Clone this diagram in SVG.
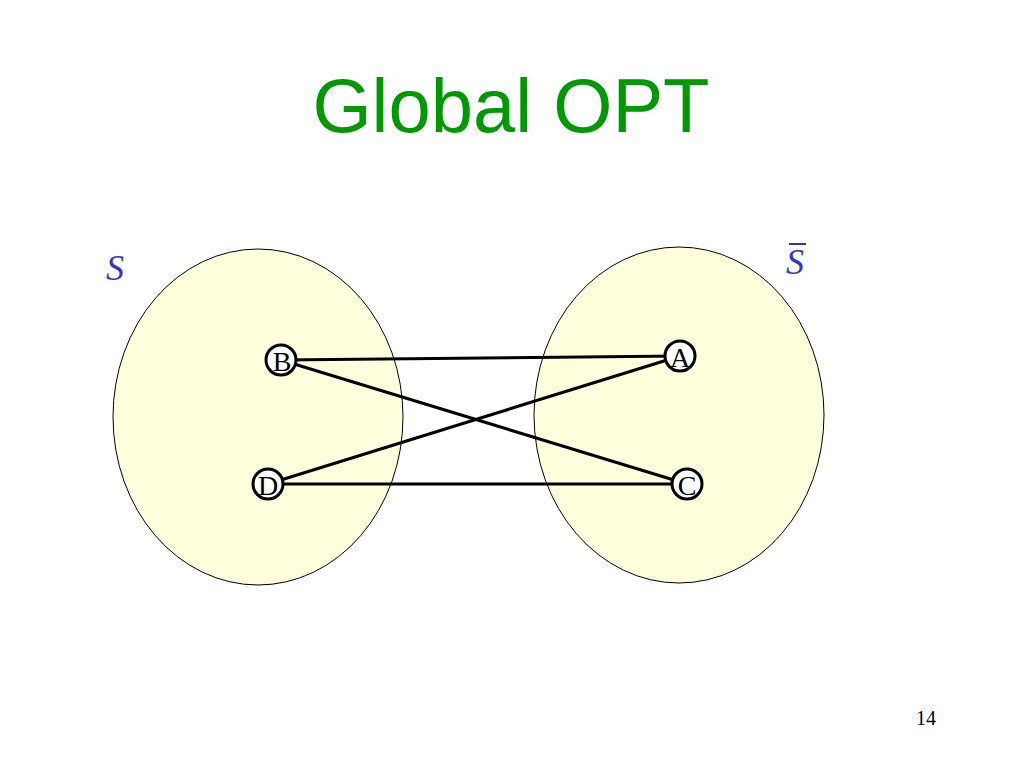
<svg xmlns="http://www.w3.org/2000/svg" width="1024" height="768" viewBox="0 0 1024 768">
<style>
.set{fill:#ffffdd;stroke:#000;stroke-width:1}
.node circle{fill:#fff;stroke:#000;stroke-width:3}
.node text{font-family:"Liberation Serif",serif;font-size:28px;text-anchor:middle}
.edge{stroke:#000;stroke-width:3;fill:none}
.lab{font-family:"Liberation Serif",serif;font-style:italic;font-size:36px;fill:#3333cc}
</style>
<rect width="1024" height="768" fill="#fff"/>
<text x="511" y="132" font-family="Liberation Sans,sans-serif" font-size="76" fill="#009900" text-anchor="middle">Global OPT</text>
<ellipse class="set" cx="258" cy="417" rx="145" ry="168"/>
<ellipse class="set" cx="679" cy="415" rx="145" ry="168"/>
<text class="lab" x="106" y="280">S</text>
<text class="lab" x="786" y="274">S</text>
<line x1="789" y1="244" x2="806" y2="244" stroke="#3333cc" stroke-width="2"/>
<g id="connectors">
<line class="edge" x1="281" y1="360" x2="680" y2="356"/>
<line class="edge" x1="281" y1="360" x2="687" y2="484"/>
<line class="edge" x1="268" y1="484" x2="680" y2="356"/>
<line class="edge" x1="268" y1="484" x2="687" y2="484"/>
</g>
<g id="B" class="node"><circle cx="281" cy="360" r="15"/><text x="282" y="371">B</text></g>
<g id="A" class="node"><circle cx="680" cy="356" r="15"/><text x="680" y="367">A</text></g>
<g id="D" class="node"><circle cx="268" cy="484" r="15"/><text x="268" y="495">D</text></g>
<g id="C" class="node"><circle cx="687" cy="484" r="15"/><text x="687" y="495">C</text></g>
<text x="926" y="725" font-family="Liberation Serif,serif" font-size="20" text-anchor="middle">14</text>
</svg>
